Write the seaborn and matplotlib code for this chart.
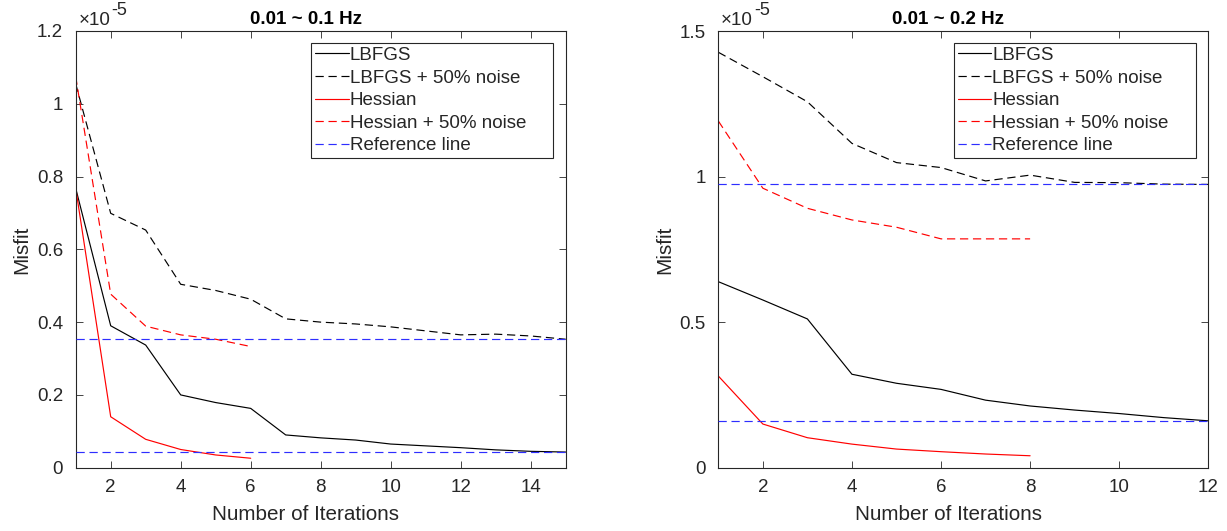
import numpy as np
import pandas as pd
import matplotlib
matplotlib.use("Agg")
import matplotlib.pyplot as plt
import seaborn as sns
from matplotlib.lines import Line2D
from matplotlib.ticker import FuncFormatter

# ---------------- data (misfit in units of 1e-5) ----------------
methods = ["LBFGS", "LBFGS + 50% noise", "Hessian", "Hessian + 50% noise"]
ref_label = "Reference line"
x_label = "Number of Iterations"
y_label = "Misfit"

# Left panel: 0.01 ~ 0.1 Hz
title_left = "0.01 ~ 0.1 Hz"
iters_left_long = list(range(1, 16))
iters_left_short = list(range(1, 7))
lbfgs_left = [0.768, 0.390, 0.337, 0.200, 0.179, 0.163, 0.090, 0.082, 0.076,
              0.065, 0.060, 0.055, 0.049, 0.045, 0.043]
lbfgs_noise_left = [1.055, 0.699, 0.653, 0.504, 0.487, 0.463, 0.409, 0.400, 0.395,
                    0.387, 0.376, 0.365, 0.367, 0.362, 0.353]
hessian_left = [0.768, 0.140, 0.078, 0.050, 0.035, 0.026]
hessian_noise_left = [1.075, 0.477, 0.389, 0.365, 0.353, 0.333]
ref_left = [0.353, 0.042]
yticks_left = [0, 0.2, 0.4, 0.6, 0.8, 1.0, 1.2]
xticks_left = [2, 4, 6, 8, 10, 12, 14]

# Right panel: 0.01 ~ 0.2 Hz
title_right = "0.01 ~ 0.2 Hz"
iters_right_long = list(range(1, 13))
iters_right_short = list(range(1, 9))
lbfgs_right = [0.639, 0.576, 0.511, 0.321, 0.290, 0.269, 0.232, 0.212, 0.198,
               0.186, 0.172, 0.161]
lbfgs_noise_right = [1.427, 1.343, 1.257, 1.114, 1.048, 1.031, 0.985, 1.005, 0.980,
                     0.979, 0.974, 0.973]
hessian_right = [0.315, 0.150, 0.103, 0.081, 0.064, 0.055, 0.047, 0.041]
hessian_noise_right = [1.191, 0.960, 0.891, 0.851, 0.826, 0.786, 0.786, 0.786]
ref_right = [0.973, 0.161]
yticks_right = [0, 0.5, 1.0, 1.5]
xticks_right = [2, 4, 6, 8, 10, 12]

exponent_text = ("\u00d710", "-5")

# ---------------- style ----------------
sns.set_theme(style="ticks")
plt.rcParams["font.family"] = ["Liberation Sans", "DejaVu Sans"]
AX_COLOR = "#262626"
plt.rcParams.update({
    "axes.edgecolor": AX_COLOR,
    "axes.linewidth": 0.8,
    "xtick.color": AX_COLOR,
    "ytick.color": AX_COLOR,
    "xtick.labelcolor": AX_COLOR,
    "ytick.labelcolor": AX_COLOR,
    "axes.labelcolor": AX_COLOR,
})

palette = {methods[0]: "black", methods[1]: "black",
           methods[2]: "#ff0000", methods[3]: "#ff0000"}
dash = (7, 4)
dashes = {methods[0]: "", methods[1]: dash, methods[2]: "", methods[3]: dash}
REF_COLOR = "#2e2eff"
LW = 0.85
FS_TICK = 13.5
FS_LABEL = 14.9
FS_TITLE = 13.5


def make_df(it_long, it_short, a, b, c, d):
    rows = []
    for m, its, vals in [(methods[0], it_long, a), (methods[1], it_long, b),
                         (methods[2], it_short, c), (methods[3], it_short, d)]:
        for i, v in zip(its, vals):
            rows.append({"Iteration": i, "Misfit": v, "Method": m})
    return pd.DataFrame(rows)


fig = plt.figure(figsize=(12.27, 5.31), dpi=100)
ax_l = fig.add_axes([75.7 / 1227, 63.3 / 531, 490 / 1227, 436.7 / 531])
ax_r = fig.add_axes([718.3 / 1227, 63.3 / 531, 490 / 1227, 436.7 / 531])

panels = [
    (ax_l, make_df(iters_left_long, iters_left_short, lbfgs_left, lbfgs_noise_left,
                   hessian_left, hessian_noise_left),
     ref_left, title_left, (1, 15), (0, 1.2), xticks_left, yticks_left),
    (ax_r, make_df(iters_right_long, iters_right_short, lbfgs_right, lbfgs_noise_right,
                   hessian_right, hessian_noise_right),
     ref_right, title_right, (1, 12), (0, 1.5), xticks_right, yticks_right),
]

for ax, df, refs, title, xlim, ylim, xt, yt in panels:
    sns.lineplot(data=df, x="Iteration", y="Misfit", hue="Method", style="Method",
                 hue_order=methods, style_order=methods,
                 palette=palette, dashes=dashes, linewidth=LW, legend=False,
                 estimator=None, sort=False, ax=ax)
    for r in refs:
        ax.axhline(r, color=REF_COLOR, linewidth=LW, dashes=dash, zorder=3)

    ax.set_xlim(*xlim)
    ax.set_ylim(*ylim)
    ax.set_xticks(xt)
    ax.set_yticks(yt)
    ax.yaxis.set_major_formatter(FuncFormatter(lambda v, p: "%g" % v))
    ax.tick_params(direction="in", top=True, right=True, length=5, width=0.6,
                   labelsize=FS_TICK)
    ax.tick_params(axis="x", pad=8)
    ax.tick_params(axis="y", pad=9)
    for s in ax.spines.values():
        s.set_visible(True)
        s.set_color(AX_COLOR)
        s.set_linewidth(0.8)

    ax.set_xlabel(x_label, fontsize=FS_LABEL)
    ax.set_ylabel(y_label, fontsize=FS_LABEL, labelpad=4)
    ax.xaxis.set_label_coords(0.469, -0.086)
    ax.set_title(title, fontsize=FS_TITLE, fontweight="bold", pad=5,
                 color="black", x=0.469)

    t1 = ax.annotate(exponent_text[0], xy=(0, 1), xycoords="axes fraction",
                     xytext=(2, 1.5), textcoords="offset points",
                     fontsize=FS_TICK, color=AX_COLOR, ha="left", va="bottom")
    ax.annotate(exponent_text[1], xy=(1, 0), xycoords=t1,
                xytext=(1, 10), textcoords="offset points",
                fontsize=13, color=AX_COLOR, ha="left", va="baseline")

    handles = [
        Line2D([], [], color=palette[methods[0]], linewidth=LW),
        Line2D([], [], color=palette[methods[1]], linewidth=LW, dashes=dash),
        Line2D([], [], color=palette[methods[2]], linewidth=LW),
        Line2D([], [], color=palette[methods[3]], linewidth=LW, dashes=dash),
        Line2D([], [], color=REF_COLOR, linewidth=LW, dashes=dash),
    ]
    leg = ax.legend(handles, methods + [ref_label], loc="upper left",
                    bbox_to_anchor=(0.480, 0.0, 0.494, 0.973), mode="expand",
                    fontsize=FS_TICK, frameon=True, fancybox=False, framealpha=1,
                    edgecolor=AX_COLOR, handlelength=1.8, handletextpad=0.05,
                    labelspacing=0.29, borderpad=0.22, borderaxespad=0.0)
    leg.get_frame().set_linewidth(0.8)

fig.savefig("out.png", dpi=100)
